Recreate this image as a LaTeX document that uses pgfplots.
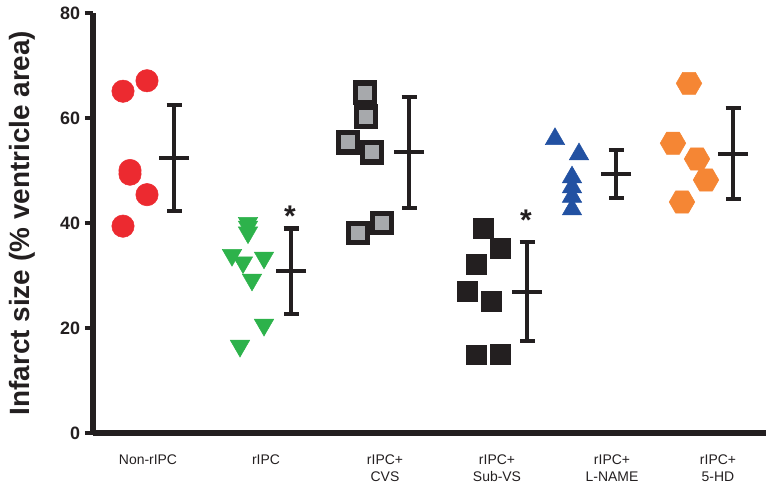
\documentclass[border=0pt]{standalone}
\usepackage{fontspec}
\setmainfont{Liberation Sans}
\usepackage{pgfplots}
\pgfplotsset{compat=1.18}
\definecolor{cred}{HTML}{EC2A30}
\definecolor{cgreen}{HTML}{2DB24B}
\definecolor{cblue}{HTML}{2251A2}
\definecolor{corange}{HTML}{F58634}
\definecolor{cblack}{HTML}{231F20}
\definecolor{cgray}{HTML}{A7A9AC}
\pgfdeclareplotmark{hexagon}{%
  \pgfpathmoveto{\pgfpoint{\pgfplotmarksize}{0pt}}%
  \pgfpathlineto{\pgfpoint{0.5\pgfplotmarksize}{0.866\pgfplotmarksize}}%
  \pgfpathlineto{\pgfpoint{-0.5\pgfplotmarksize}{0.866\pgfplotmarksize}}%
  \pgfpathlineto{\pgfpoint{-\pgfplotmarksize}{0pt}}%
  \pgfpathlineto{\pgfpoint{-0.5\pgfplotmarksize}{-0.866\pgfplotmarksize}}%
  \pgfpathlineto{\pgfpoint{0.5\pgfplotmarksize}{-0.866\pgfplotmarksize}}%
  \pgfpathclose
  \pgfusepathqfillstroke}
\begin{document}
\begin{tikzpicture}
\useasboundingbox (0,0) rectangle (766bp,484bp);
\begin{axis}[
  at={(93bp,51bp)}, anchor=south west,
  width=673bp, height=420bp, scale only axis,
  xmin=93, xmax=766, ymin=0, ymax=80,
  axis x line=bottom, axis y line=left,
  axis line style={-, line width=5bp, cblack},
  ytick={0,20,40,60,80},
  xtick={148,266,385,497,612,718},
  xticklabels={Non-rIPC,rIPC,{rIPC+\\CVS},{rIPC+\\Sub-VS},{rIPC+\\L-NAME},{rIPC+\\5-HD}},
  tick align=outside,
  major tick length=8bp,
  ytick style={line width=4bp, cblack},
  xtick style={draw=none},
  /pgf/number format/assume math mode=true,
  yticklabel style={font=\fontsize{18}{18}\selectfont\bfseries, text=cblack, xshift=-1.5bp},
  xticklabel style={font=\fontsize{14}{17.5}\selectfont, align=center, text=cblack, yshift=-10bp},
  ylabel={Infarct size (\% ventricle area)},
  ylabel style={font=\fontsize{28}{28}\selectfont\bfseries, text=cblack, at={(axis description cs:-0.1055,0.5)}, anchor=center},
  clip=false,
]
% Non-rIPC
\addplot[only marks, mark=*, mark size=11.2bp, mark options={draw=cred, fill=cred, line width=0.5bp}]
  coordinates {(123,65.1) (147,67.1) (130,50.0) (130,49.3) (147,45.4) (123,39.4)};
% rIPC
\addplot[only marks, mark=triangle*, mark size=11.2bp, mark options={rotate=180, draw=cgreen, fill=cgreen, line width=0.5bp}]
  coordinates {(248,40.0) (248,39.3) (248,38.2) (232,33.9) (243,32.5) (264,33.4) (252,29.2) (264,20.6) (240,16.6)};
% rIPC+CVS
\addplot[only marks, mark=square*, mark size=9.7bp, mark options={draw=cblack, fill=cgray, line width=5.5bp}]
  coordinates {(365,64.8) (366,60.2) (348,55.4) (372,53.5) (382,40.0) (358,38.1)};
% rIPC+Sub-VS
\addplot[only marks, mark=square*, mark size=9.8bp, mark options={draw=cblack, fill=cblack, line width=0.5bp}]
  coordinates {(483,39.0) (500,35.2) (476,32.2) (467,27.0) (491,25.1) (476,14.9) (500,15.0)};
% rIPC+L-NAME
\addplot[only marks, mark=triangle*, mark size=11.2bp, mark options={draw=cblue, fill=cblue, line width=0.5bp}]
  coordinates {(555,56.0) (579,53.1) (572,48.7) (572,46.8) (572,45.0) (572,42.6)};
% rIPC+5-HD
\addplot[only marks, mark=hexagon, mark size=12.8bp, mark options={draw=corange, fill=corange, line width=0.5bp}]
  coordinates {(689,66.6) (673,55.2) (697,52.2) (706,48.2) (682,44.0)};
% mean and error bars
\addplot[only marks, mark=-, mark size=15bp, mark options={line width=4.5bp, cblack},
  error bars/.cd, y dir=both, y explicit, error mark=|,
  error mark options={mark size=7.5bp, line width=4.5bp, cblack},
  error bar style={line width=4.5bp, cblack}]
  coordinates {
    (174,52.4) += (0,10.1) -= (0,10.1)
    (291,30.9) += (0,8.1) -= (0,8.2)
    (409,53.5) += (0,10.5) -= (0,10.6)
    (527,26.9) += (0,9.5) -= (0,9.4)
    (616,49.3) += (0,4.6) -= (0,4.5)
    (733,53.1) += (0,8.8) -= (0,8.5)
  };
\node[font=\fontsize{30}{30}\selectfont\bfseries, text=cblack, yshift=-6.5bp] at (axis cs:290,42.6) {*};
\node[font=\fontsize{30}{30}\selectfont\bfseries, text=cblack, yshift=-6.5bp] at (axis cs:526,41.8) {*};
\end{axis}
\end{tikzpicture}
\end{document}
